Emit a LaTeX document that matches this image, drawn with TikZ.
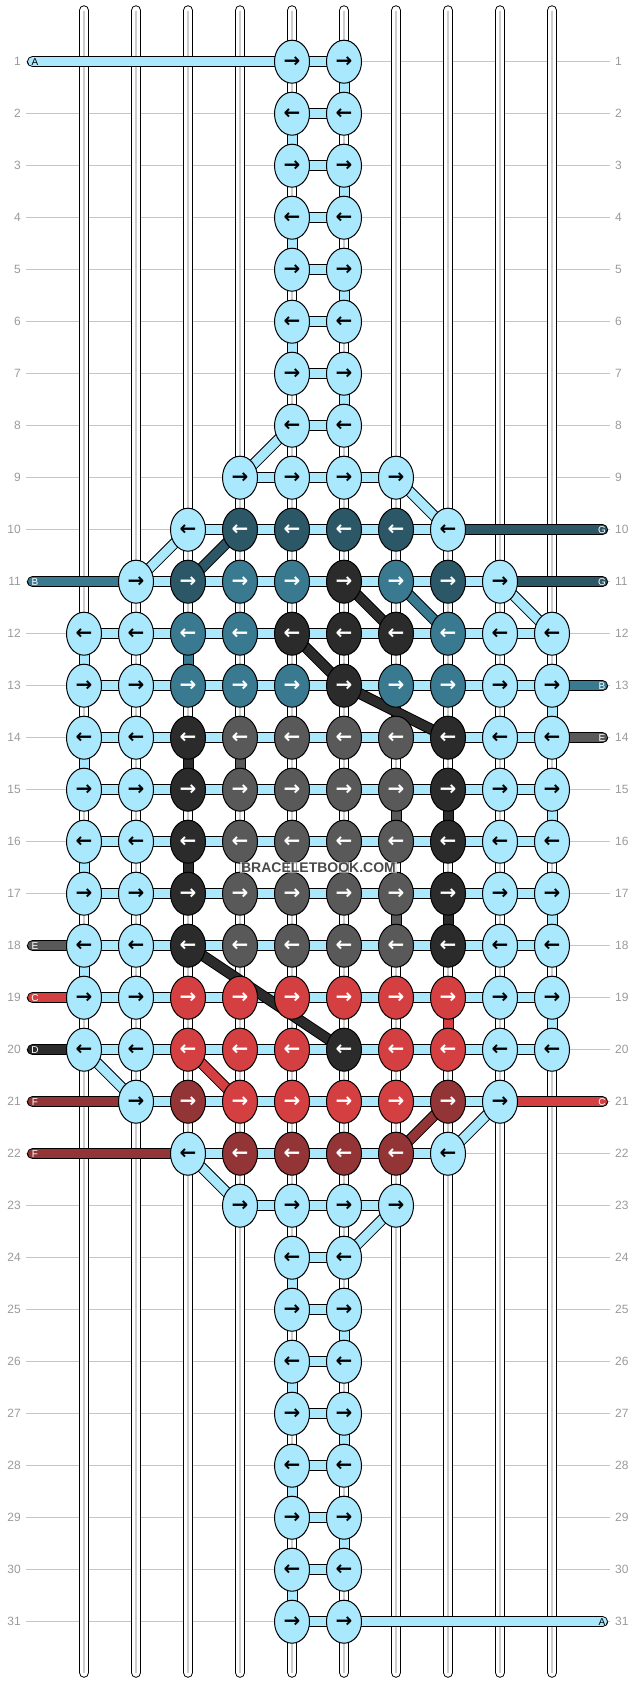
\documentclass[tikz,border=0pt]{standalone}
\usepackage{fontspec}
\setmainfont{Liberation Sans}
\newfontfamily\arrowfont{DejaVu Sans}
\usetikzlibrary{shapes.geometric}

\definecolor{sky}{HTML}{AAE8FD}
\definecolor{dteal}{HTML}{2C5766}
\definecolor{mteal}{HTML}{397A91}
\definecolor{coal}{HTML}{2B2B2B}
\definecolor{ash}{HTML}{595959}
\definecolor{brick}{HTML}{D44042}
\definecolor{wine}{HTML}{933536}
\definecolor{rowgray}{HTML}{9A9A9A}
\definecolor{gridgray}{HTML}{C6C6C6}
\definecolor{strandgray}{HTML}{CCCCCC}
\definecolor{wmgray}{HTML}{4A4A4A}
% arrow colour for each knot colour
\colorlet{txsky}{black}
\colorlet{txdteal}{white}
\colorlet{txmteal}{white}
\colorlet{txcoal}{white}
\colorlet{txash}{white}
\colorlet{txbrick}{white}
\colorlet{txwine}{white}

\pgfdeclarelayer{strands}
\pgfdeclarelayer{tubes}
\pgfsetlayers{strands,tubes,main}

\tikzset{
  knot/.style={ellipse, draw=black, line width=1pt, minimum width=35pt,
    minimum height=43pt, inner sep=0pt,
    font=\arrowfont\bfseries\fontsize{20}{20}\selectfont},
  tubeout/.style={line width=11pt, draw=black},
  tubein/.style={line width=9pt},
  rownum/.style={font=\fontsize{12}{12}\selectfont, text=rowgray, inner sep=0pt},
  endlabel/.style={font=\fontsize{10}{10}\selectfont, inner sep=0pt},
}

\newcommand{\tube}[4][]{%
  \draw[tubeout,#1] (#2.center) -- (#3.center);
  \draw[tubein,#1,draw=#4] (#2.center) -- (#3.center);}
\newcommand{\knotarrow}[1]{\ifodd#1 →\else ←\fi}

\begin{document}
\begin{tikzpicture}[x=1pt, y=-1pt]
\useasboundingbox (0,0) rectangle (636,1684);

%row lines and row numbers
\foreach \r in {1,...,31}{
  \pgfmathsetmacro\y{61.7+52*(\r-1)}
  \coordinate (g-\r-l) at (26,\y);
  \coordinate (g-\r-r) at (610,\y);
  \node[rownum, anchor=east] (n-\r-l) at (21,\y) {\r};
  \node[rownum, anchor=west] (n-\r-r) at (615,\y) {\r};
  \begin{pgfonlayer}{strands}
    \draw[gridgray, line width=1.2pt] (g-\r-l) -- (g-\r-r);
  \end{pgfonlayer}
}

%white strands
\foreach \c in {0,...,9}{
  \pgfmathsetmacro\x{84+52*\c}
  \coordinate (s-\c-t) at (\x,10.5);
  \coordinate (s-\c-b) at (\x,1672.5);
  \begin{pgfonlayer}{strands}
    \draw[line width=10.5pt, line cap=round] (s-\c-t) -- (s-\c-b);
    \draw[line width=8.5pt, line cap=round, white] (s-\c-t) -- (s-\c-b);
    \draw[line width=2.5pt, strandgray] (s-\c-t) -- (s-\c-b);
  \end{pgfonlayer}
}

%knots, odd rows point right, even rows point left
\foreach \r/\row in {
  1/{4/sky,5/sky}, 2/{4/sky,5/sky}, 3/{4/sky,5/sky}, 4/{4/sky,5/sky},
  5/{4/sky,5/sky}, 6/{4/sky,5/sky}, 7/{4/sky,5/sky}, 8/{4/sky,5/sky},
  9/{3/sky,4/sky,5/sky,6/sky},
  10/{2/sky,3/dteal,4/dteal,5/dteal,6/dteal,7/sky},
  11/{1/sky,2/dteal,3/mteal,4/mteal,5/coal,6/mteal,7/dteal,8/sky},
  12/{0/sky,1/sky,2/mteal,3/mteal,4/coal,5/coal,6/coal,7/mteal,8/sky,9/sky},
  13/{0/sky,1/sky,2/mteal,3/mteal,4/mteal,5/coal,6/mteal,7/mteal,8/sky,9/sky},
  14/{0/sky,1/sky,2/coal,3/ash,4/ash,5/ash,6/ash,7/coal,8/sky,9/sky},
  15/{0/sky,1/sky,2/coal,3/ash,4/ash,5/ash,6/ash,7/coal,8/sky,9/sky},
  16/{0/sky,1/sky,2/coal,3/ash,4/ash,5/ash,6/ash,7/coal,8/sky,9/sky},
  17/{0/sky,1/sky,2/coal,3/ash,4/ash,5/ash,6/ash,7/coal,8/sky,9/sky},
  18/{0/sky,1/sky,2/coal,3/ash,4/ash,5/ash,6/ash,7/coal,8/sky,9/sky},
  19/{0/sky,1/sky,2/brick,3/brick,4/brick,5/brick,6/brick,7/brick,8/sky,9/sky},
  20/{0/sky,1/sky,2/brick,3/brick,4/brick,5/coal,6/brick,7/brick,8/sky,9/sky},
  21/{1/sky,2/wine,3/brick,4/brick,5/brick,6/brick,7/wine,8/sky},
  22/{2/sky,3/wine,4/wine,5/wine,6/wine,7/sky},
  23/{3/sky,4/sky,5/sky,6/sky},
  24/{4/sky,5/sky}, 25/{4/sky,5/sky}, 26/{4/sky,5/sky}, 27/{4/sky,5/sky},
  28/{4/sky,5/sky}, 29/{4/sky,5/sky}, 30/{4/sky,5/sky}, 31/{4/sky,5/sky}}{
  \foreach \c/\f in \row{
    \node[knot, fill=\f, text=tx\f] (k-\r-\c) at ({84+52*\c},{61.7+52*(\r-1)}) {\knotarrow{\r}};
  }
}

%thread ends
\coordinate (e-1-l) at (32.5,61.7);
\coordinate (e-11-l) at (32.5,581.7);
\coordinate (e-18-l) at (32.5,945.7);
\coordinate (e-19-l) at (32.5,997.7);
\coordinate (e-20-l) at (32.5,1049.7);
\coordinate (e-21-l) at (32.5,1101.7);
\coordinate (e-22-l) at (32.5,1153.7);
\coordinate (e-10-r) at (602.5,529.7);
\coordinate (e-11-r) at (602.5,581.7);
\coordinate (e-13-r) at (602.5,685.7);
\coordinate (e-14-r) at (602.5,737.7);
\coordinate (e-21-r) at (602.5,1101.7);
\coordinate (e-31-r) at (602.5,1621.7);

\begin{pgfonlayer}{tubes}
  %links along each row
  \foreach \r/\a/\b in {1/4/5, 2/4/5, 3/4/5, 4/4/5, 5/4/5, 6/4/5, 7/4/5, 8/4/5,
    9/3/6, 10/2/7, 11/1/8, 12/0/9, 13/0/9, 14/0/9, 15/0/9, 16/0/9, 17/0/9,
    18/0/9, 19/0/9, 20/0/9, 21/1/8, 22/2/7, 23/3/6, 24/4/5, 25/4/5, 26/4/5,
    27/4/5, 28/4/5, 29/4/5, 30/4/5, 31/4/5}{
    \pgfmathtruncatemacro\bb{\b-1}
    \foreach \c in {\a,...,\bb}{
      \pgfmathtruncatemacro\cn{\c+1}
      \tube{k-\r-\c}{k-\r-\cn}{sky}
    }
  }
  %drops to the next row
  \foreach \r/\c/\f in {1/5/sky, 2/4/sky, 3/5/sky, 4/4/sky, 5/5/sky, 6/4/sky,
    7/5/sky, 12/0/sky, 13/9/sky, 14/0/sky, 15/9/sky, 16/0/sky, 17/9/sky,
    18/0/sky, 19/9/sky, 24/4/sky, 25/5/sky, 26/4/sky, 27/5/sky, 28/4/sky,
    29/5/sky, 30/4/sky, 12/2/mteal, 14/2/coal, 14/3/ash, 15/6/ash, 15/7/coal,
    16/2/coal, 17/6/ash, 17/7/coal, 19/7/brick}{
    \pgfmathtruncatemacro\rn{\r+1}
    \tube{k-\r-\c}{k-\rn-\c}{\f}
  }
  %slanted links
  \foreach \ra/\ca/\rb/\cb/\f in {8/4/9/3/sky, 9/6/10/7/sky, 10/2/11/1/sky,
    11/8/12/9/sky, 20/0/21/1/sky, 21/8/22/7/sky, 22/2/23/3/sky, 23/6/24/5/sky,
    10/3/11/2/dteal, 11/5/12/6/coal, 11/6/12/7/mteal, 12/4/13/5/coal,
    13/5/14/7/coal, 18/2/20/5/coal, 20/2/21/3/brick, 21/7/22/6/wine}{
    \tube{k-\ra-\ca}{k-\rb-\cb}{\f}
  }
  %loose ends
  \tube[line cap=round]{e-1-l}{k-1-4}{sky}
  \tube[line cap=round]{e-11-l}{k-11-1}{mteal}
  \tube[line cap=round]{e-18-l}{k-18-0}{ash}
  \tube[line cap=round]{e-19-l}{k-19-0}{brick}
  \tube[line cap=round]{e-20-l}{k-20-0}{coal}
  \tube[line cap=round]{e-21-l}{k-21-1}{wine}
  \tube[line cap=round]{e-22-l}{k-22-2}{wine}
  \tube[line cap=round]{k-10-7}{e-10-r}{dteal}
  \tube[line cap=round]{k-11-8}{e-11-r}{dteal}
  \tube[line cap=round]{k-13-9}{e-13-r}{mteal}
  \tube[line cap=round]{k-14-9}{e-14-r}{ash}
  \tube[line cap=round]{k-21-8}{e-21-r}{brick}
  \tube[line cap=round]{k-31-5}{e-31-r}{sky}
\end{pgfonlayer}

%end letters
\node[endlabel, text=black] (l-1) at ([xshift=2.5pt]e-1-l) {A};
\node[endlabel, text=white] (l-11) at ([xshift=2.5pt]e-11-l) {B};
\node[endlabel, text=white] (l-18) at ([xshift=2.5pt]e-18-l) {E};
\node[endlabel, text=white] (l-19) at ([xshift=2.5pt]e-19-l) {C};
\node[endlabel, text=white] (l-20) at ([xshift=2.5pt]e-20-l) {D};
\node[endlabel, text=white] (l-21) at ([xshift=2.5pt]e-21-l) {F};
\node[endlabel, text=white] (l-22) at ([xshift=2.5pt]e-22-l) {F};
\node[endlabel, text=white] (r-10) at ([xshift=-0.5pt]e-10-r) {G};
\node[endlabel, text=white] (r-11) at ([xshift=-0.5pt]e-11-r) {G};
\node[endlabel, text=white] (r-13) at ([xshift=-0.5pt]e-13-r) {B};
\node[endlabel, text=white] (r-14) at ([xshift=-0.5pt]e-14-r) {E};
\node[endlabel, text=white] (r-21) at ([xshift=-0.5pt]e-21-r) {C};
\node[endlabel, text=black] (r-31) at ([xshift=-0.5pt]e-31-r) {A};

%watermark
\node[font=\fontsize{14}{14}\selectfont\bfseries, text=wmgray, fill=white,
  fill opacity=0.6, text opacity=1, inner sep=1pt] (wm) at (318.5,867.5) {BRACELETBOOK.COM};
\end{tikzpicture}
\end{document}
